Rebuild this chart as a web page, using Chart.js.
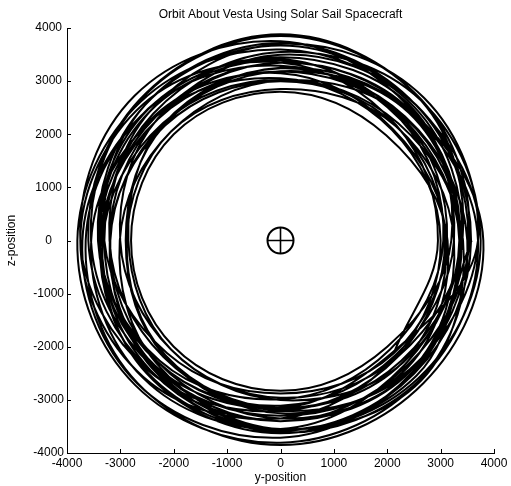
<!DOCTYPE html>
<html>
<head>
<meta charset="utf-8">
<script src="https://cdn.jsdelivr.net/npm/chart.js@4/dist/chart.umd.min.js"></script>
<style>
  body { margin: 0; background: #fff; }
  canvas { display: block; }
</style>
</head>
<body>
<canvas id="orbit" width="511" height="486"></canvas>
<script>
// spacecraft track, one row per revolution
const orbitY = [
  2121,
  2950, 2169, 0, -2569, -3750, -2569, 0, 2169,
  3000, 2086, 0, -2333, -3547, -2581, 0, 2333,
  3350, 2404, 0, -2192, -3188, -2404, 0, 2616,
  3700, 2423, 0, -2173, -2900, -2173, 0, 2423,
  3700, 2687, 0, -2439, -3203, -2192, 0, 2439,
  3520, 2543, 0, -2543, -3300, -2123, 0, 2123,
  3120, 2290, 0, -2290, -3380, -2490, 0, 2490,
  3360, 2263, 0, -2475, -3412, -2263, 0, 2051,
  3050, 2263, 0, -2475, -3712, -2687, 0, 2475,
  3390, 2319, 0, -2051, -3011, -2319, 0, 2588,
  3750, 2543, 0, -2543, -3420, -2293, 0, 2293,
  3110, 2102, 0, -2353, -3400, -2353, 0, 2102,
  3700, 2635, 0, -2385, -3300, -2385, 0, 2635,
  3420, 2205, 0, -2205, -3330, -2505, 0, 2505,
  3570, 2546, 0, -2298, -3003, -2051, 0, 2298,
  3365, 2461, 0, -2729, -3749, -2461, 0, 2192,
  3080, 2163, 0, -2163, -3200, -2362, 0, 2362,
  3540, 2645, 0, -2645, -3600, -2446, 0, 2446,
  3250, 2157, 0, -2051, -2880, -2157, 0, 2263,
  3400, 2510, 0, -2616, -3806, -2722, 0, 2616,
  3500, 2333, 0, -2192, -2850, -2051, 0, 2192,
  3410, 2635, 0, -2635, -3550, -2385, 0, 2385,
  3130, 1980, 0, -2000, -2800, -2000, 0, 2000,
  3200, 2481, 0, -2481, -3650, -2681, 0, 2681,
  3800, 2444, 0, -2294, -3200, -2294, 0, 2444,
  3350, 2298, 0, -2439, -3391, -2298, 0, 2157,
  3250, 2439, 0, -2333, -3344, -2439, 0, 2546,
  3580
];
const orbitZ = [
  -2121,
  0, 2169, 3350, 2569, 0, -2569, -3350, -2169,
  0, 2086, 3053, 2333, 0, -2581, -3547, -2333,
  0, 2404, 3188, 2192, 0, -2404, -3612, -2616,
  0, 2423, 3250, 2173, 0, -2173, -3250, -2423,
  0, 2687, 3697, 2439, 0, -2192, -3203, -2439,
  0, 2543, 3720, 2543, 0, -2123, -2880, -2123,
  0, 2290, 3180, 2290, 0, -2490, -3580, -2490,
  0, 2263, 3412, 2475, 0, -2263, -2988, -2051,
  0, 2263, 3288, 2475, 0, -2687, -3712, -2475,
  0, 2319, 3011, 2051, 0, -2319, -3549, -2588,
  0, 2543, 3670, 2543, 0, -2293, -3170, -2293,
  0, 2102, 3150, 2353, 0, -2353, -3150, -2102,
  0, 2635, 3550, 2385, 0, -2385, -3550, -2635,
  0, 2205, 3030, 2205, 0, -2505, -3630, -2505,
  0, 2546, 3497, 2298, 0, -2051, -3003, -2298,
  0, 2461, 3749, 2729, 0, -2461, -3211, -2192,
  0, 2163, 3000, 2163, 0, -2362, -3400, -2362,
  0, 2645, 3880, 2645, 0, -2446, -3400, -2446,
  0, 2157, 2850, 2051, 0, -2157, -3156, -2263,
  0, 2510, 3594, 2616, 0, -2722, -3806, -2616,
  0, 2333, 3241, 2192, 0, -2051, -2959, -2192,
  0, 2635, 3850, 2635, 0, -2385, -3300, -2385,
  0, 1980, 2800, 2000, 0, -2000, -2830, -2000,
  0, 2481, 3450, 2481, 0, -2681, -3850, -2681,
  0, 2444, 3350, 2294, 0, -2294, -3350, -2444,
  0, 2298, 3391, 2439, 0, -2298, -3109, -2157,
  0, 2439, 3344, 2333, 0, -2439, -3556, -2546,
  0
];
const vestaCenter = [{ x: 0, y: 0 }];

const tickValues = [-4000, -3000, -2000, -1000, 0, 1000, 2000, 3000, 4000];
const tickLabels = ['-4000', '-3000', '-2000', '-1000', '0', '1000', '2000', '3000', '4000'];

const orbitPoints = orbitY.map((y, i) => ({ x: y, y: orbitZ[i] }));
const labelFor = v => tickLabels[tickValues.indexOf(v)] ?? '';

const FONT = 'Liberation Sans, Arial, Helvetica, sans-serif';

// MATLAB style ticks pointing into the axes
const innerTicks = {
  id: 'innerTicks',
  afterDraw(chart) {
    const { ctx, chartArea, scales } = chart;
    ctx.save();
    ctx.strokeStyle = '#000';
    ctx.lineWidth = 1;
    ctx.beginPath();
    tickValues.forEach(v => {
      const px = Math.round(scales.x.getPixelForValue(v)) + 0.5;
      ctx.moveTo(px, chartArea.bottom);
      ctx.lineTo(px, chartArea.bottom - 4);
      const py = Math.round(scales.y.getPixelForValue(v)) + 0.5;
      ctx.moveTo(chartArea.left, py);
      ctx.lineTo(chartArea.left + 4, py);
    });
    ctx.stroke();
    ctx.restore();
  }
};

const ctx = document.getElementById('orbit').getContext('2d');
new Chart(ctx, {
  type: 'scatter',
  data: {
    datasets: [
      {
        data: orbitPoints,
        showLine: true,
        borderColor: '#000',
        borderWidth: 2,
        pointRadius: 0,
        tension: 0.37,
        fill: false
      },
      {
        data: vestaCenter,
        pointStyle: 'circle',
        pointRadius: 13,
        borderWidth: 2,
        borderColor: '#000',
        backgroundColor: 'rgba(0,0,0,0)'
      },
      {
        data: vestaCenter,
        pointStyle: 'cross',
        pointRadius: 13,
        borderWidth: 1.6,
        borderColor: '#000'
      }
    ]
  },
  options: {
    responsive: false,
    animation: false,
    devicePixelRatio: 1,
    layout: { padding: { left: 0, right: 17, top: 0, bottom: 0 } },
    scales: {
      x: {
        type: 'linear',
        min: -4000,
        max: 4000,
        afterFit: s => { s.height = 33; },
        afterBuildTicks: s => { s.ticks = tickValues.map(v => ({ value: v })); },
        grid: { display: false, drawTicks: false },
        border: { display: true, color: '#000', width: 1 },
        ticks: {
          color: '#000',
          padding: 3,
          maxRotation: 0,
          font: { family: FONT, size: 12 },
          callback: v => labelFor(v)
        },
        title: {
          display: true,
          text: 'y-position',
          color: '#000',
          font: { family: FONT, size: 12 },
          padding: { top: 0, bottom: 1 }
        }
      },
      y: {
        type: 'linear',
        min: -4000,
        max: 4000,
        afterFit: s => { s.width = 67; },
        afterBuildTicks: s => { s.ticks = tickValues.map(v => ({ value: v })); },
        grid: { display: false, drawTicks: false },
        border: { display: true, color: '#000', width: 1 },
        ticks: {
          color: '#000',
          padding: 3,
          crossAlign: 'center',
          font: { family: FONT, size: 12 },
          callback: v => labelFor(v)
        },
        title: {
          display: true,
          text: 'z-position',
          color: '#000',
          font: { family: FONT, size: 12 },
          padding: { top: 4, bottom: 0 }
        }
      }
    },
    plugins: {
      legend: { display: false },
      tooltip: { enabled: false },
      title: {
        display: true,
        fullSize: false,
        text: 'Orbit About Vesta Using Solar Sail Spacecraft',
        color: '#000',
        font: { family: FONT, size: 12, weight: 'normal' },
        padding: { top: 7, bottom: 6.6 }
      }
    }
  },
  plugins: [innerTicks]
});
</script>
</body>
</html>
